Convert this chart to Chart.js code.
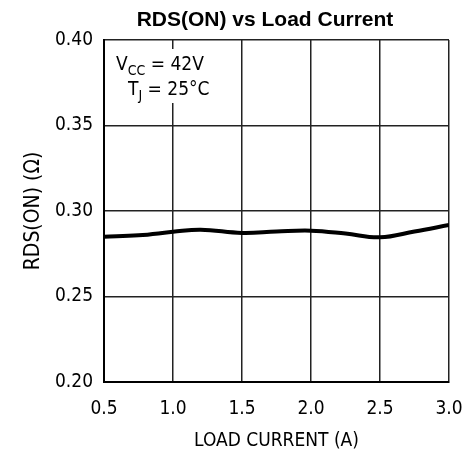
<!DOCTYPE html>
<html>
<head>
<meta charset="utf-8">
<script src="https://cdn.jsdelivr.net/npm/chart.js@4"></script>
<style>
  html, body { margin: 0; padding: 0; background: #fff; }
  #wrap { width: 468px; height: 466px; }
</style>
</head>
<body>
<div id="wrap"><canvas id="myChart" width="468" height="466"></canvas></div>
<script>
// load current (A) and RDS(ON) (ohm)
const currentA = [0.5, 0.75, 1.0, 1.2, 1.5, 1.75, 2.0, 2.25, 2.5, 2.75, 3.0];
const rdsOn = [0.285, 0.2858, 0.2878, 0.2891, 0.2872, 0.288, 0.2885, 0.2868, 0.2846, 0.288, 0.2918];

const xTicks = [0.5, 1.0, 1.5, 2.0, 2.5, 3.0];
const yTicks = [0.20, 0.25, 0.30, 0.35, 0.40];

const condensed = "'DejaVu Sans Condensed', 'DejaVu Sans'";
const tickFont = { family: condensed, size: 19 };

// title is centred a bit right of the canvas middle, so draw it by hand
const chartTitle = {
  id: "chartTitle",
  afterDraw(chart) {
    const ctx = chart.ctx;
    ctx.save();
    ctx.font = "bold 21px 'Liberation Sans', Arial";
    ctx.fillStyle = "#000";
    ctx.textAlign = "center";
    ctx.textBaseline = "alphabetic";
    ctx.fillText("RDS(ON) vs Load Current", 265, 26);
    ctx.restore();
  },
};

// white box with the test conditions, top left of the plot
const conditionsBox = {
  id: "conditionsBox",
  beforeDatasetsDraw(chart) {
    const ctx = chart.ctx;
    const area = chart.chartArea;
    ctx.save();
    ctx.fillStyle = "#fff";
    ctx.fillRect(area.left + 4, area.top + 9, 122, 54);
    ctx.fillStyle = "#000";
    ctx.textBaseline = "alphabetic";
    const big = "19px " + condensed;
    const small = "14px " + condensed;
    let x = area.left + 12;
    let y = area.top + 30;
    ctx.font = big;
    ctx.fillText("V", x, y);
    x += ctx.measureText("V").width;
    ctx.font = small;
    ctx.fillText("CC", x, y + 5);
    x += ctx.measureText("CC").width;
    ctx.font = big;
    ctx.fillText(" = 42V", x, y);

    x = area.left + 24;
    y = area.top + 55;
    ctx.fillText("T", x, y);
    x += ctx.measureText("T").width;
    ctx.font = small;
    ctx.fillText("J", x, y + 5);
    x += ctx.measureText("J").width;
    ctx.font = big;
    ctx.fillText(" = 25°C", x, y);
    ctx.restore();
  },
};

new Chart(document.getElementById("myChart").getContext("2d"), {
  type: "line",
  data: {
    datasets: [
      {
        data: currentA.map((x, i) => ({ x: x, y: rdsOn[i] })),
        borderColor: "#000",
        borderWidth: 4,
        pointRadius: 0,
        tension: 0.4,
        fill: false,
      },
    ],
  },
  options: {
    responsive: false,
    animation: false,
    layout: { padding: { left: 0, right: 19, top: 40, bottom: 0 } },
    plugins: {
      legend: { display: false },
      tooltip: { enabled: false },
      title: { display: false },
    },
    scales: {
      x: {
        type: "linear",
        min: 0.5,
        max: 3.0,
        afterBuildTicks: (scale) => {
          scale.ticks = xTicks.map((v) => ({ value: v }));
        },
        afterFit: (scale) => {
          scale.height = 84;
          scale.paddingLeft = 0;
          scale.paddingRight = 0;
        },
        ticks: {
          color: "#000",
          font: tickFont,
          padding: 16,
          callback: (v) => v.toFixed(1),
        },
        grid: { color: "#222", lineWidth: 1.5, drawTicks: false },
        border: { color: "#000", width: 2 },
        title: {
          display: true,
          text: "LOAD CURRENT (A)",
          color: "#000",
          font: { family: condensed, size: 19 },
          padding: { top: 10, bottom: 14 },
        },
      },
      y: {
        min: 0.2,
        max: 0.4,
        afterBuildTicks: (scale) => {
          scale.ticks = yTicks.map((v) => ({ value: v }));
        },
        afterFit: (scale) => {
          scale.width = 104;
        },
        ticks: {
          color: "#000",
          font: tickFont,
          padding: 11,
          callback: (v) => v.toFixed(2),
        },
        grid: { color: "#222", lineWidth: 1.5, drawTicks: false },
        border: { color: "#000", width: 2 },
        title: {
          display: true,
          text: "RDS(ON) (Ω)",
          color: "#000",
          font: { family: condensed, size: 21 },
          padding: { top: 21, bottom: 0 },
        },
      },
    },
  },
  plugins: [conditionsBox, chartTitle],
});
</script>
</body>
</html>
